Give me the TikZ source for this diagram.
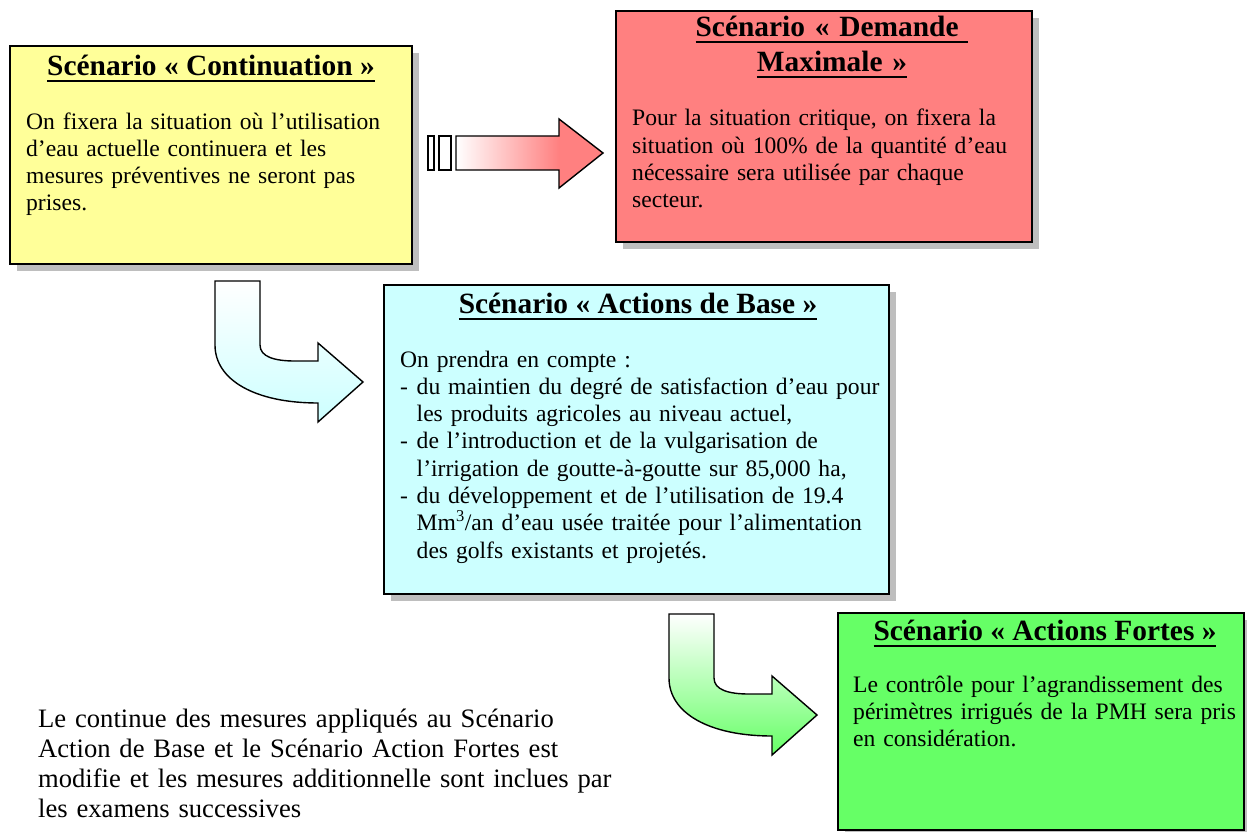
\documentclass[tikz,border=0pt]{standalone}
\usepackage{fontspec}
\setmainfont{Liberation Serif}
\usetikzlibrary{shadows}
\definecolor{contYellow}{HTML}{FFFF99}
\definecolor{demRed}{HTML}{FF8080}
\definecolor{baseCyan}{HTML}{CCFFFF}
\definecolor{fortGreen}{HTML}{66FF66}
\definecolor{shadowGray}{HTML}{BEBEBE}
\newcommand{\titleul}[1]{\leavevmode\setbox0=\hbox{#1}\rlap{\rule[-6.5pt]{\wd0}{2pt}}\box0}
\newcommand{\dashitem}{\makebox[16.5pt][l]{-}}
\newcommand{\itemgap}{\hspace*{16.5pt}}
\pgfdeclarehorizontalshading{redfade}{100bp}{color(0bp)=(white); color(25bp)=(white); color(60bp)=(demRed); color(100bp)=(demRed)}
\tikzset{
  scenario/.style={draw,line width=2pt,anchor=north west,inner sep=0pt,
    drop shadow={shadow xshift=7pt,shadow yshift=-7pt,fill=shadowGray,opacity=1}},
  scentitle/.style={anchor=base,inner sep=0pt,font=\fontsize{29.4}{35}\selectfont\bfseries},
  scentext/.style={anchor=base west,inner sep=0pt,align=left,text width=600pt,
    font=\fontsize{23.6}{27.3}\selectfont},
  blockarrow/.style={draw,line width=1.4pt},
  pics/bendarrow/.style={code={
    \path[blockarrow,top color=white,bottom color=#1]
      (0,0) -- (45,0) -- (45,64) .. controls (45,76) and (60,80) .. (80,80)
      -- (103,80) -- (103,62) -- (148,101) -- (103,141) -- (103,122)
      .. controls (40,122) and (0,99) .. (0,64) -- cycle;
  }}
}

\begin{document}
\begin{tikzpicture}[x=1pt,y=-1pt]
  \useasboundingbox[fill=white] (0,0) rectangle (1247,832);
  % scenario boxes
  \node[scenario,fill=contYellow,minimum width=402pt,minimum height=218pt] (cont) at (9,45) {};
  \node[scenario,fill=demRed,minimum width=416pt,minimum height=231pt] (dem) at (615,10) {};
  \node[scenario,fill=baseCyan,minimum width=505pt,minimum height=309pt] (base) at (383,284) {};
  \node[scenario,fill=fortGreen,minimum width=406pt,minimum height=217pt] (fort) at (837,612) {};
  % titles
  \node[scentitle] (contTitle) at ([shift={(0,31)}]cont.north) {\titleul{Scénario « Continuation »}};
  \node[scentitle,align=center,text width=380pt] (demTitle) at ([shift={(8,27)}]dem.north)
    {\titleul{Scénario « Demande\ }\\\titleul{Maximale »}};
  \node[scentitle] (baseTitle) at ([shift={(1.5,29)}]base.north) {\titleul{Scénario « Actions de Base »}};
  \node[scentitle] (fortTitle) at ([shift={(4,28)}]fort.north) {\titleul{Scénario « Actions Fortes »}};
  % texts
  \node[scentext] (contText) at ([shift={(17,84)}]cont.north west)
    {On fixera la situation où l’utilisation\\d’eau actuelle continuera et les\\mesures préventives ne seront pas\\prises.};
  \node[scentext] (demText) at ([shift={(17,116)}]dem.north west)
    {Pour la situation critique, on fixera la\\situation où 100\% de la quantité d’eau\\nécessaire sera utilisée par chaque\\secteur.};
  \node[scentext] (baseText) at ([shift={(17,83)}]base.north west)
    {On prendra en compte :\\
     \dashitem du maintien du degré de satisfaction d’eau pour\\
     \itemgap les produits agricoles au niveau actuel,\\
     \dashitem de l’introduction et de la vulgarisation de\\
     \itemgap l’irrigation de goutte-à-goutte sur 85,000 ha,\\
     \dashitem du développement et de l’utilisation de 19.4\\
     \itemgap Mm\textsuperscript{3}/an d’eau usée traitée pour l’alimentation\\
     \itemgap des golfs existants et projetés.};
  \node[scentext] (fortText) at ([shift={(16,80)}]fort.north west)
    {Le contrôle pour l’agrandissement des\\périmètres irrigués de la PMH sera pris\\en considération.};
  \node[anchor=base west,inner sep=0pt,align=left,text width=700pt,
    font=\fontsize{26.6}{30}\selectfont] (remark) at (38,727)
    {Le continue des mesures appliqués au Scénario\\Action de Base et le Scénario Action Fortes est\\modifie et les mesures additionnelle sont inclues par\\les examens successives};
  % arrows
  \path[blockarrow,fill=white] (428,136) rectangle (434,170);
  \path[blockarrow,fill=white] (439,136) rectangle (451,170);
  \path[blockarrow,shade,shading=redfade] (456,136) -- (559,136) -- (559,119) -- (603,153)
    -- (559,188) -- (559,170) -- (456,170) -- cycle;
  \pic at (215,281) {bendarrow=baseCyan};
  \pic at (669,614) {bendarrow=fortGreen};
\end{tikzpicture}
\end{document}
